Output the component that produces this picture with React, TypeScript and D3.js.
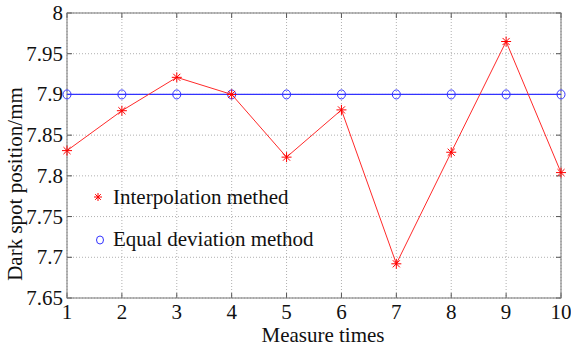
import React from "react";
import * as d3 from "d3";

const measures = [1, 2, 3, 4, 5, 6, 7, 8, 9, 10];
const interpolation = [7.831, 7.88, 7.921, 7.9, 7.823, 7.881, 7.692, 7.829, 7.965, 7.804];
const equalDeviation = [7.9, 7.9, 7.9, 7.9, 7.9, 7.9, 7.9, 7.9, 7.9, 7.9];
const yTicks = [7.65, 7.7, 7.75, 7.8, 7.85, 7.9, 7.95, 8];
const yTickLabels = ["7.65", "7.7", "7.75", "7.8", "7.85", "7.9", "7.95", "8"];
const xTicks = [1, 2, 3, 4, 5, 6, 7, 8, 9, 10];

const W = 571, H = 351;
const left = 67, right = 561, top = 13, bottom = 298;
const font = "Liberation Serif, Tinos, Times, serif";
const fs = 21;

function Star({ x, y, r, color }: { x: number; y: number; r: number; color: string }) {
  const d = [0, 45, 90, 135].map((a) => {
    const rad = (a * Math.PI) / 180;
    const dx = Math.cos(rad) * r, dy = Math.sin(rad) * r;
    return `M${x - dx},${y - dy}L${x + dx},${y + dy}`;
  }).join("");
  return <path d={d} stroke={color} strokeWidth={1} fill="none" />;
}

export default function App() {
  const x = d3.scaleLinear().domain([1, 10]).range([left, right]);
  const y = d3.scaleLinear().domain([7.65, 8]).range([bottom, top]);
  const line = d3.line<number>().x((_, i) => x(measures[i])).y((v) => y(v));

  return (
    <svg width={W} height={H} style={{ position: "absolute", left: 0, top: 0, background: "#fff", fontFamily: font }}>
      <rect x={0} y={0} width={W} height={H} fill="#fff" />
      {xTicks.map((t) => (
        <line key={"gx" + t} x1={x(t)} x2={x(t)} y1={top} y2={bottom} stroke="#b0b0b0" strokeWidth={1} strokeDasharray="1,2" />
      ))}
      {yTicks.map((t) => (
        <line key={"gy" + t} x1={left} x2={right} y1={y(t)} y2={y(t)} stroke="#b0b0b0" strokeWidth={1} strokeDasharray="1,2" />
      ))}
      {xTicks.map((t) => (
        <g key={"tx" + t}>
          <line x1={x(t)} x2={x(t)} y1={bottom} y2={bottom - 5} stroke="#555" />
          <line x1={x(t)} x2={x(t)} y1={top} y2={top + 5} stroke="#555" />
        </g>
      ))}
      {yTicks.map((t) => (
        <g key={"ty" + t}>
          <line x1={left} x2={left + 5} y1={y(t)} y2={y(t)} stroke="#555" />
          <line x1={right} x2={right - 5} y1={y(t)} y2={y(t)} stroke="#555" />
        </g>
      ))}
      <rect x={left} y={top} width={right - left} height={bottom - top} fill="none" stroke="#777" strokeWidth={1} />
      <path d={line(equalDeviation) || ""} fill="none" stroke="#3333ff" strokeWidth={1.2} />
      {equalDeviation.map((v, i) => (
        <ellipse key={"c" + i} cx={x(measures[i])} cy={y(v)} rx={4} ry={4.5} fill="none" stroke="#3333ff" strokeWidth={1} />
      ))}
      <path d={line(interpolation) || ""} fill="none" stroke="#ff2a2a" strokeWidth={1} />
      {interpolation.map((v, i) => (
        <Star key={"s" + i} x={x(measures[i])} y={y(v)} r={5} color="#ff0000" />
      ))}
      <g fontFamily={font} fontSize={fs} fill="#111">
        {yTicks.map((t, i) => (
          <text key={"yl" + t} x={left - 4} y={y(t) + 7} textAnchor="end">
            {yTickLabels[i]}
          </text>
        ))}
        {xTicks.map((t) => (
          <text key={"xl" + t} x={x(t)} y={bottom + 21} textAnchor="middle">
            {t}
          </text>
        ))}
        <text x={(left + right) / 2 + 9} y={342} textAnchor="middle">
          Measure times
        </text>
        <text transform={`translate(22,184) rotate(-90)`} textAnchor="middle">
          Dark spot position/mm
        </text>
        <text x={113} y={204}>Interpolation methed</text>
        <text x={113} y={246}>Equal deviation method</text>
      </g>
      <Star x={98} y={197} r={4} color="#ff0000" />
      <ellipse cx={100} cy={240} rx={3.5} ry={4} fill="none" stroke="#3333ff" strokeWidth={1} />
    </svg>
  );
}
